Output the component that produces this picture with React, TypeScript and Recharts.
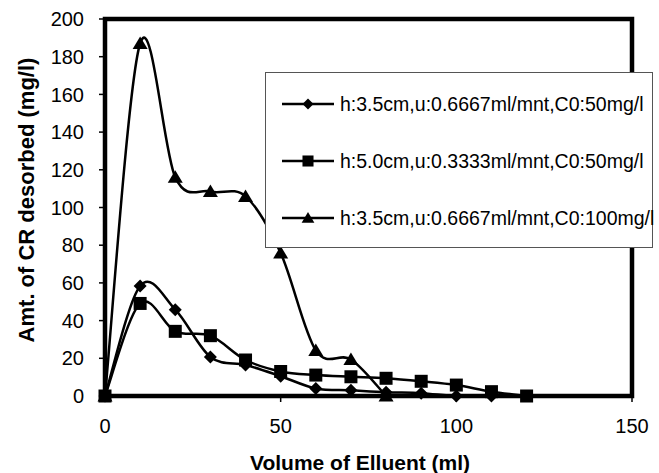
import React from 'react';
import { LineChart, Line, XAxis, YAxis, ReferenceArea, Legend } from 'recharts';

const volumes = [0, 10, 20, 30, 40, 50, 60, 70, 80, 90, 100, 110, 120];
const seriesDiamond = [0, 58.4, 45.8, 20.7, 16.5, 10.5, 4, 3, 2, 1.5, 0, 0];
const seriesSquare = [0, 49.1, 34.3, 32, 19.1, 13, 11.1, 10.2, 9.4, 7.8, 5.8, 2.3, 0];
const seriesTriangle = [0, 187, 116, 108.5, 105.9, 75.9, 24.2, 19.4, 0];
const seriesNames = [
  'h:3.5cm,u:0.6667ml/mnt,C0:50mg/l',
  'h:5.0cm,u:0.3333ml/mnt,C0:50mg/l',
  'h:3.5cm,u:0.6667ml/mnt,C0:100mg/l',
];
const xTicks = [0, 50, 100, 150];
const yTicks = [0, 20, 40, 60, 80, 100, 120, 140, 160, 180, 200];

const data = volumes.map((v, i) => ({
  v,
  a: seriesDiamond[i],
  b: seriesSquare[i],
  c: seriesTriangle[i],
}));

const FONT = '"Liberation Sans", Arial, Helvetica, sans-serif';

// Excel-like smoothed line (Catmull-Rom style bezier, factor 1/6)
function excelSmooth(context: any) {
  let pts: number[][] = [];
  return {
    areaStart() {},
    areaEnd() {},
    lineStart() {
      pts = [];
    },
    point(x: number, y: number) {
      pts.push([+x, +y]);
    },
    lineEnd() {
      const n = pts.length;
      if (n === 0) return;
      context.moveTo(pts[0][0], pts[0][1]);
      if (n === 1) return;
      for (let i = 0; i < n - 1; i++) {
        const p0 = pts[Math.max(i - 1, 0)];
        const p1 = pts[i];
        const p2 = pts[i + 1];
        const p3 = pts[Math.min(i + 2, n - 1)];
        const c1x = p1[0] + (p2[0] - p0[0]) / 6;
        const c1y = p1[1] + (p2[1] - p0[1]) / 6;
        const c2x = p2[0] - (p3[0] - p1[0]) / 6;
        const c2y = p2[1] - (p3[1] - p1[1]) / 6;
        context.bezierCurveTo(c1x, c1y, c2x, c2y, p2[0], p2[1]);
      }
    },
  };
}

type Shape = 'diamond' | 'square' | 'triangle';

function markerPath(shape: Shape, cx: number, cy: number, scale = 1) {
  if (shape === 'diamond') {
    const s = 6.5 * scale;
    return `M${cx},${cy - s}L${cx + s},${cy}L${cx},${cy + s}L${cx - s},${cy}Z`;
  }
  if (shape === 'square') {
    const s = 6.5 * scale;
    return `M${cx - s},${cy - s}H${cx + s}V${cy + s}H${cx - s}Z`;
  }
  const w = 7.5 * scale;
  const top = 7 * scale;
  const bot = 5.5 * scale;
  return `M${cx},${cy - top}L${cx + w},${cy + bot}L${cx - w},${cy + bot}Z`;
}

const makeDot = (shape: Shape) => (p: any) => {
  const k = `${shape}-${p.index}`;
  if (p.cx == null || p.cy == null || p.value == null || isNaN(p.cy)) return <g key={k} />;
  return <path key={k} d={markerPath(shape, p.cx, p.cy)} fill="#000" />;
};

const shapes: Shape[] = ['diamond', 'square', 'triangle'];
const rowCenters = [31, 88, 145];

const renderLegend = () => (
  <div
    style={{
      width: 388,
      height: 176,
      boxSizing: 'border-box',
      border: '1.5px solid #555',
      background: '#fff',
      position: 'relative',
      fontFamily: FONT,
      fontSize: 19.5,
      color: '#000',
    }}
  >
    {seriesNames.map((n, i) => (
      <div
        key={n}
        style={{
          position: 'absolute',
          left: 0,
          top: rowCenters[i] - 13,
          height: 26,
          display: 'flex',
          alignItems: 'center',
          whiteSpace: 'nowrap',
        }}
      >
        <svg width={74} height={26} style={{ display: 'block' }}>
          <line x1={16} y1={13} x2={68} y2={13} stroke="#000" strokeWidth={2.5} />
          <path d={markerPath(shapes[i], 42, 13, 0.85)} fill="#000" />
        </svg>
        <span style={{ lineHeight: '26px' }}>{n}</span>
      </div>
    ))}
  </div>
);

export default function App() {
  const tickStyle = { fill: '#000', fontSize: 20, fontFamily: FONT };
  return (
    <div style={{ position: 'absolute', left: 0, top: 0, width: 659, height: 473, background: '#fff' }}>
      <LineChart
        width={659}
        height={473}
        data={data}
        margin={{ top: 19, right: 27, bottom: 17, left: 0 }}
      >
        <XAxis
          dataKey="v"
          type="number"
          domain={[0, 150]}
          ticks={xTicks}
          height={60}
          axisLine={false}
          tickLine={{ stroke: '#000', strokeWidth: 1.5 }}
          tickSize={6}
          tickMargin={17}
          tick={tickStyle}
          interval={0}
        />
        <YAxis
          type="number"
          domain={[0, 200]}
          ticks={yTicks}
          width={105}
          axisLine={false}
          tickLine={{ stroke: '#000', strokeWidth: 1.5 }}
          tickSize={6}
          tickMargin={15}
          tick={tickStyle}
          interval={0}
        />
        <ReferenceArea
          x1={0}
          x2={150}
          y1={0}
          y2={200}
          fill="none"
          stroke="#000"
          strokeWidth={4.5}
          fillOpacity={0}
          ifOverflow="visible"
        />
        <Line
          dataKey="a"
          name={seriesNames[0]}
          type={excelSmooth as any}
          stroke="#000"
          strokeWidth={2.5}
          dot={makeDot('diamond')}
          activeDot={false}
          isAnimationActive={false}
        />
        <Line
          dataKey="b"
          name={seriesNames[1]}
          type={excelSmooth as any}
          stroke="#000"
          strokeWidth={2.5}
          dot={makeDot('square')}
          activeDot={false}
          isAnimationActive={false}
        />
        <Line
          dataKey="c"
          name={seriesNames[2]}
          type={excelSmooth as any}
          stroke="#000"
          strokeWidth={2.5}
          dot={makeDot('triangle')}
          activeDot={false}
          isAnimationActive={false}
        />
        <Legend
          layout="vertical"
          align="center"
          verticalAlign="middle"
          width={388}
          content={renderLegend}
          wrapperStyle={{ left: 265, top: 72, width: 388, height: 176 }}
        />
      </LineChart>
      <div
        style={{
          position: 'absolute',
          left: 360,
          top: 451,
          transform: 'translateX(-50%)',
          fontFamily: FONT,
          fontWeight: 'bold',
          fontSize: 21,
          lineHeight: '24px',
          whiteSpace: 'nowrap',
          color: '#000',
        }}
      >
        Volume of Elluent (ml)
      </div>
      <div
        style={{
          position: 'absolute',
          left: 27,
          top: 200,
          transform: 'translate(-50%, -50%) rotate(-90deg)',
          fontFamily: FONT,
          fontWeight: 'bold',
          fontSize: 22,
          lineHeight: '24px',
          whiteSpace: 'nowrap',
          color: '#000',
        }}
      >
        Amt. of CR desorbed (mg/l)
      </div>
    </div>
  );
}
